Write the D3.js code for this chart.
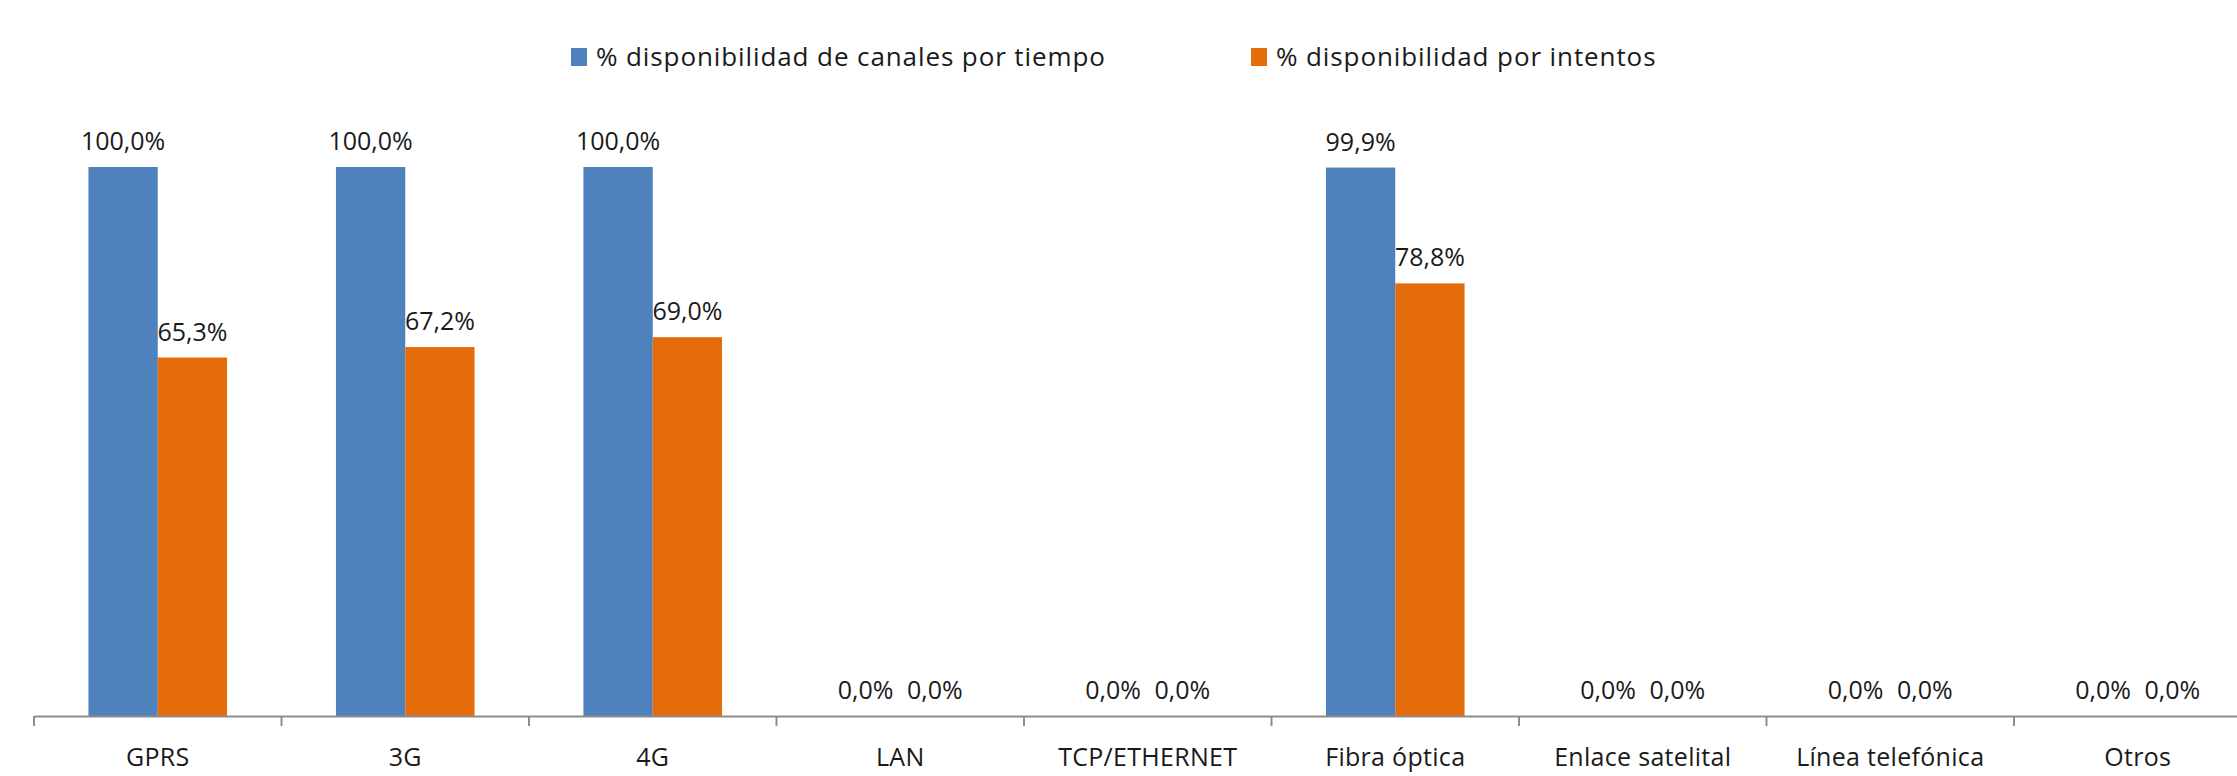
<!DOCTYPE html>
<html>
<head>
<meta charset="utf-8">
<script src="https://cdn.jsdelivr.net/npm/d3@7"></script>
<style>
  body { margin: 0; background: #fff; }
  svg text { font-family: "Open Sans", sans-serif; fill: #1a1a1a; }
</style>
</head>
<body>
<div id="chart"></div>
<script>
// datos
var categorias = ["GPRS", "3G", "4G", "LAN", "TCP/ETHERNET", "Fibra óptica", "Enlace satelital", "Línea telefónica", "Otros"];
var seriesNames = ["% disponibilidad de canales por tiempo", "% disponibilidad por intentos"];
var porTiempo = [1.000, 1.000, 1.000, 0, 0, 0.999, 0, 0, 0];
var porIntentos = [0.653, 0.672, 0.690, 0, 0, 0.788, 0, 0, 0];
var colores = ["#4F81BD", "#E46C0A"];

var width = 2237, height = 776;
var axisY = 716, topY = 167;
var bandW = 247.5, left = 34;

var svg = d3.select("#chart").append("svg")
    .attr("width", width)
    .attr("height", height);

var x = d3.scaleBand()
    .domain(categorias)
    .range([left, left + bandW * categorias.length])
    .padding(0);

var xs = d3.scaleBand()
    .domain([0, 1])
    .range([x.bandwidth() * 0.22, x.bandwidth() * 0.78])
    .padding(0);

var y = d3.scaleLinear().domain([0, 1]).range([axisY, topY]);

var fmt = function(v) { return (v * 100).toFixed(1).replace(".", ",") + "%"; };

// tabla para las barras
var datos = [];
categorias.forEach(function(c, i) {
    datos.push({cat: c, s: 0, v: porTiempo[i]});
    datos.push({cat: c, s: 1, v: porIntentos[i]});
});

// barras
svg.selectAll("rect.bar")
    .data(datos)
    .enter().append("rect")
    .attr("class", "bar")
    .attr("x", function(d) { return x(d.cat) + xs(d.s); })
    .attr("y", function(d) { return y(d.v); })
    .attr("width", xs.bandwidth())
    .attr("height", function(d) { return axisY - y(d.v); })
    .attr("fill", function(d) { return colores[d.s]; });

// etiquetas de valores
svg.selectAll("text.val")
    .data(datos)
    .enter().append("text")
    .attr("class", "val")
    .attr("x", function(d) { return x(d.cat) + xs(d.s) + xs.bandwidth() / 2; })
    .attr("y", function(d) { return y(d.v) - 17; })
    .attr("text-anchor", "middle")
    .style("font-size", "25px")
    .text(function(d) { return fmt(d.v); });

// eje x
var axisG = svg.append("g")
    .attr("transform", "translate(0," + axisY + ")")
    .call(d3.axisBottom(x).tickSize(0).tickPadding(32));
axisG.select(".domain").attr("stroke", "#8c8c8c").attr("stroke-width", 2);
axisG.selectAll("text")
    .style("font-size", "25px")
    .style("font-family", "'Open Sans', sans-serif")
    .style("letter-spacing", "0.3px")
    .attr("fill", "#1a1a1a");

// marcas entre categorías
var bordes = categorias.map(function(c) { return x(c); });
bordes.push(x.range()[1]);
svg.selectAll("line.tick")
    .data(bordes)
    .enter().append("line")
    .attr("class", "tick")
    .attr("x1", function(d) { return d; })
    .attr("x2", function(d) { return d; })
    .attr("y1", axisY)
    .attr("y2", axisY + 10)
    .attr("stroke", "#8c8c8c")
    .attr("stroke-width", 2);

// leyenda
var legPos = [571, 1251];
var leg = svg.selectAll("g.legend")
    .data(seriesNames)
    .enter().append("g")
    .attr("class", "legend")
    .attr("transform", function(d, i) { return "translate(" + legPos[i] + ",48)"; });

leg.append("rect")
    .attr("width", 16)
    .attr("height", 18)
    .attr("fill", function(d, i) { return colores[i]; });

leg.append("text")
    .attr("x", 25)
    .attr("y", 18)
    .style("font-size", "26px")
    .style("letter-spacing", "0.9px")
    .text(function(d) { return d; });
</script>
</body>
</html>
